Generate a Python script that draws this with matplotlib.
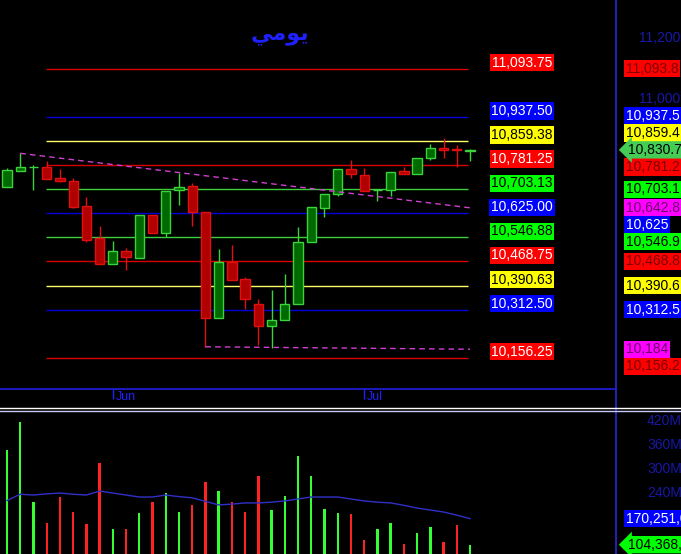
import matplotlib
matplotlib.use("Agg")
import matplotlib.pyplot as plt
from matplotlib.lines import Line2D
from matplotlib.transforms import ScaledTranslation

plt.rcParams['font.family'] = ['Liberation Sans', 'DejaVu Sans']

W, H = 681, 554

# daily candles, one per trading day
opens = [10711.6, 10763.7, 10774.0, 10774.7, 10739.0, 10730.0, 10649.0, 10543.6, 10462.0, 10502.0,
         10480.5, 10619.5, 10560.0, 10700.0, 10714.0, 10628.0, 10286.5, 10467.5, 10410.5, 10329.8,
         10259.0, 10280.0, 10332.0, 10532.6, 10643.0, 10686.8, 10768.0, 10749.7, 10699.0, 10700.0,
         10762.7, 10752.0, 10804.0, 10836.6, 10833.0, 10828.0]
highs = [10771.0, 10820.0, 10782.0, 10796.0, 10768.0, 10739.0, 10679.0, 10583.7, 10534.8, 10514.0,
         10619.5, 10619.5, 10697.6, 10757.0, 10722.6, 10628.0, 10507.8, 10521.0, 10418.6, 10348.0,
         10377.6, 10429.7, 10581.4, 10644.5, 10686.8, 10768.0, 10798.5, 10773.4, 10703.0, 10760.4,
         10776.7, 10804.0, 10850.6, 10869.0, 10847.0, 10832.0]
lows = [10711.0, 10763.0, 10701.0, 10737.6, 10725.0, 10643.0, 10532.5, 10460.0, 10462.0, 10440.5,
        10480.5, 10560.0, 10549.0, 10652.0, 10583.7, 10190.8, 10286.5, 10410.0, 10315.8, 10196.3,
        10188.8, 10280.0, 10332.0, 10532.6, 10612.0, 10681.3, 10739.0, 10698.6, 10666.0, 10682.3,
        10752.0, 10752.0, 10798.5, 10804.0, 10776.7, 10796.0]
closes = [10766.0, 10774.7, 10776.0, 10737.6, 10731.0, 10646.5, 10540.0, 10462.0, 10502.3, 10483.7,
          10619.5, 10560.0, 10697.6, 10711.6, 10628.0, 10286.5, 10465.5, 10410.0, 10348.3, 10259.1,
          10280.0, 10332.0, 10530.6, 10644.5, 10686.8, 10768.0, 10752.0, 10698.6, 10700.0, 10760.4,
          10752.0, 10804.0, 10836.6, 10828.8, 10829.0, 10830.75]

# volume in millions and its moving average
volumes = [344, 416, 213, 160, 226, 188, 157, 312, 145, 145, 185, 213, 236, 188, 205, 264, 241, 213,
           186, 278, 192, 228, 329, 278, 195, 185, 181, 116, 145, 160, 106, 135, 148, 112, 153, 104.368]
vol_ma = [216, 232, 230, 233, 235, 232, 230, 240, 235, 230, 225, 225, 230, 226, 223, 214, 205, 207,
          210, 210, 212, 215, 220, 225, 225, 225, 220, 215, 212, 210, 204, 197, 192, 187, 179, 170.251]

levels = [11093.75, 10937.50, 10859.38, 10781.25, 10703.13, 10625.00, 10546.88, 10468.75,
          10390.63, 10312.50, 10156.25]
level_kinds = ['red', 'blue', 'yellow', 'red', 'green', 'blue', 'green', 'red', 'yellow', 'blue', 'red']

trend_hi_x, trend_hi_y = [1, 35], [10819.6, 10642.8]
trend_lo_x, trend_lo_y = [15, 35], [10192.0, 10184.0]

month_ticks = [8, 27]
month_labels = ['Jun', 'Jul']
# only the scale labels not hidden behind the value tags
price_ticks = [11000, 11200]
vol_ticks = [240, 300, 360, 420]

title = "يومي"
title_shaped = "\ufef2\ufee3\ufeee\ufef3"  # same word, joined glyphs in visual order

line_col = {'red': '#d80000', 'blue': '#0000d8', 'yellow': '#ffff66', 'green': '#3ccf3c'}
box_col = {'red': '#ff0000', 'blue': '#0000ff', 'yellow': '#ffff00', 'green': '#00ff00',
           'magenta': '#ff00ff'}
left_txt = {'red': 'white', 'blue': 'white', 'yellow': 'black', 'green': 'black'}
right_txt = {'red': '#7a0000', 'blue': 'white', 'yellow': 'black', 'green': 'black',
             'magenta': '#6a006a'}

fig = plt.figure(figsize=(W / 100, H / 100), dpi=100, facecolor='black')
ax = fig.add_axes([0, 165 / H, 615 / W, 389 / H], facecolor='black')
axv = fig.add_axes([0, 0, 615 / W, 144 / H], facecolor='black')

xlim = (-0.53, 45.96)
ax.set_xlim(*xlim)
ax.set_ylim(10055, 11317)
axv.set_xlim(*xlim)
axv.set_ylim(80.7, 445.3)

for a in (ax, axv):
    for s in a.spines.values():
        s.set_visible(False)

# candles
for i in range(len(opens)):
    o, h, l, c = opens[i], highs[i], lows[i], closes[i]
    up = c >= o
    edge = '#3cd23c' if up else '#e01010'
    fill = '#006a00' if up else '#b00000'
    ax.vlines(i, l, h, color=edge, lw=1, zorder=3)
    ax.bar(i, max(abs(c - o), 0.5), bottom=min(o, c), width=0.7, color=fill,
           edgecolor=edge, lw=1, zorder=4)

# level lines and their labels
ax.hlines(levels, 2.95, 34.85, colors=[line_col[k] for k in level_kinds], lw=1, zorder=2)
for lv, k in zip(levels, level_kinds):
    ax.annotate(f"{lv:,.2f}", xy=(522 / 615, lv), xycoords=('axes fraction', 'data'),
                xytext=(0, 6), textcoords='offset pixels', ha='center', va='center',
                fontsize=10, color=left_txt[k],
                bbox=dict(boxstyle='square,pad=0.12', fc=box_col[k], ec='none'), zorder=6)

# trend lines
ax.plot(trend_hi_x, trend_hi_y, color='#d040d0', lw=1, ls=(0, (4, 3)), zorder=5)
ax.plot(trend_lo_x, trend_lo_y, color='#d040d0', lw=1, ls=(0, (4, 3)), zorder=5)

ax.text(280 / 615, 1 - 35 / 389, title_shaped, transform=ax.transAxes, ha='center',
        va='center', color='#2020ff', fontsize=16, fontweight='bold', family='DejaVu Sans')

# price scale
ax.yaxis.set_ticks_position('right')
ax.set_yticks(price_ticks)
ax.set_yticklabels([f"{v:,}" for v in price_ticks])
ax.tick_params(axis='y', length=0, pad=17, labelcolor='#1818a8', labelsize=10)

# month ticks
ax.set_xticks(month_ticks)
ax.set_xticklabels(month_labels)
ax.tick_params(axis='x', direction='out', length=7, width=1, color='#2020ff',
               labelcolor='#2020ff', labelsize=9, pad=-5.5)
for lbl in ax.get_xticklabels():
    lbl.set_horizontalalignment('left')
    lbl.set_transform(lbl.get_transform() + ScaledTranslation(0.03, 0, fig.dpi_scale_trans))

# volume panel
vcols = ['#33ff33' if c >= o else '#ff2222' for o, c in zip(opens, closes)]
axv.bar(range(len(volumes)), volumes, width=0.18, color=vcols, zorder=3)
axv.plot(range(len(vol_ma)), vol_ma, color='#3030c8', lw=1, zorder=4)
axv.yaxis.set_ticks_position('right')
axv.set_yticks(vol_ticks)
axv.set_yticklabels([f"{v}M" for v in vol_ticks])
axv.tick_params(axis='y', length=0, pad=23, labelcolor='#1818a8', labelsize=10)
axv.set_xticks([])

# right scale value tags, pushed apart around the last price
last = closes[-1]
tags = [(lv, f"{lv:,.0f}" if lv == 10625 else f"{lv:,.1f}", k)
        for lv, k in zip(levels, level_kinds)]
tags += [(trend_hi_y[-1], f"{trend_hi_y[-1]:,.1f}", 'magenta'),
         (trend_lo_y[-1], f"{trend_lo_y[-1]:,.0f}", 'magenta')]
ypix = {}
for v, _, _ in tags + [(last, '', '')]:
    ypix[v] = H - ax.transData.transform((0, v))[1]
step = 17
above = sorted([t for t in tags if t[0] > last], key=lambda t: -ypix[t[0]])
below = sorted([t for t in tags if t[0] < last], key=lambda t: ypix[t[0]])
prev = ypix[last]
for t in above:
    ypix[t[0]] = min(ypix[t[0]], prev - step)
    prev = ypix[t[0]]
prev = ypix[last]
for t in below:
    ypix[t[0]] = max(ypix[t[0]], prev + step)
    prev = ypix[t[0]]

for v, txt, k in tags:
    fig.text(626 / W, 1 - ypix[v] / H, txt, ha='left', va='center', fontsize=10,
             color=right_txt[k], zorder=10,
             bbox=dict(boxstyle='square,pad=0.12', fc=box_col[k], ec='none'))
fig.text(628 / W, 1 - ypix[last] / H, f"{last:,.2f}", ha='left', va='center', fontsize=10,
         color='black', zorder=10,
         bbox=dict(boxstyle='larrow,pad=0.12', fc='#44cc55', ec='none'))

ma_y = H - axv.transData.transform((0, vol_ma[-1]))[1]
vol_y = H - axv.transData.transform((0, volumes[-1]))[1]
fig.text(626 / W, 1 - ma_y / H, f"{vol_ma[-1] * 1e6:,.0f}", ha='left', va='center',
         fontsize=10, color='white', zorder=10,
         bbox=dict(boxstyle='square,pad=0.12', fc='#0000ff', ec='none'))
fig.text(628 / W, 1 - vol_y / H, f"{volumes[-1] * 1e6:,.0f}", ha='left', va='center',
         fontsize=10, color='black', zorder=10,
         bbox=dict(boxstyle='larrow,pad=0.12', fc='#00ff00', ec='none'))


def fline(x0, y0, x1, y1, color, lw=1):
    fig.add_artist(Line2D([x0 / W, x1 / W], [1 - y0 / H, 1 - y1 / H], color=color, lw=lw,
                          zorder=8))


fline(0, 389, 615, 389, '#2020e0', 1.2)
fline(615.5, 0, 615.5, H, '#2828d8', 1.2)
fline(0, 407.5, W, 407.5, 'white', 1)
fline(0, 410.5, W, 410.5, '#c8c8ff', 1)

fig.savefig("out.png", dpi=100, facecolor='black')
